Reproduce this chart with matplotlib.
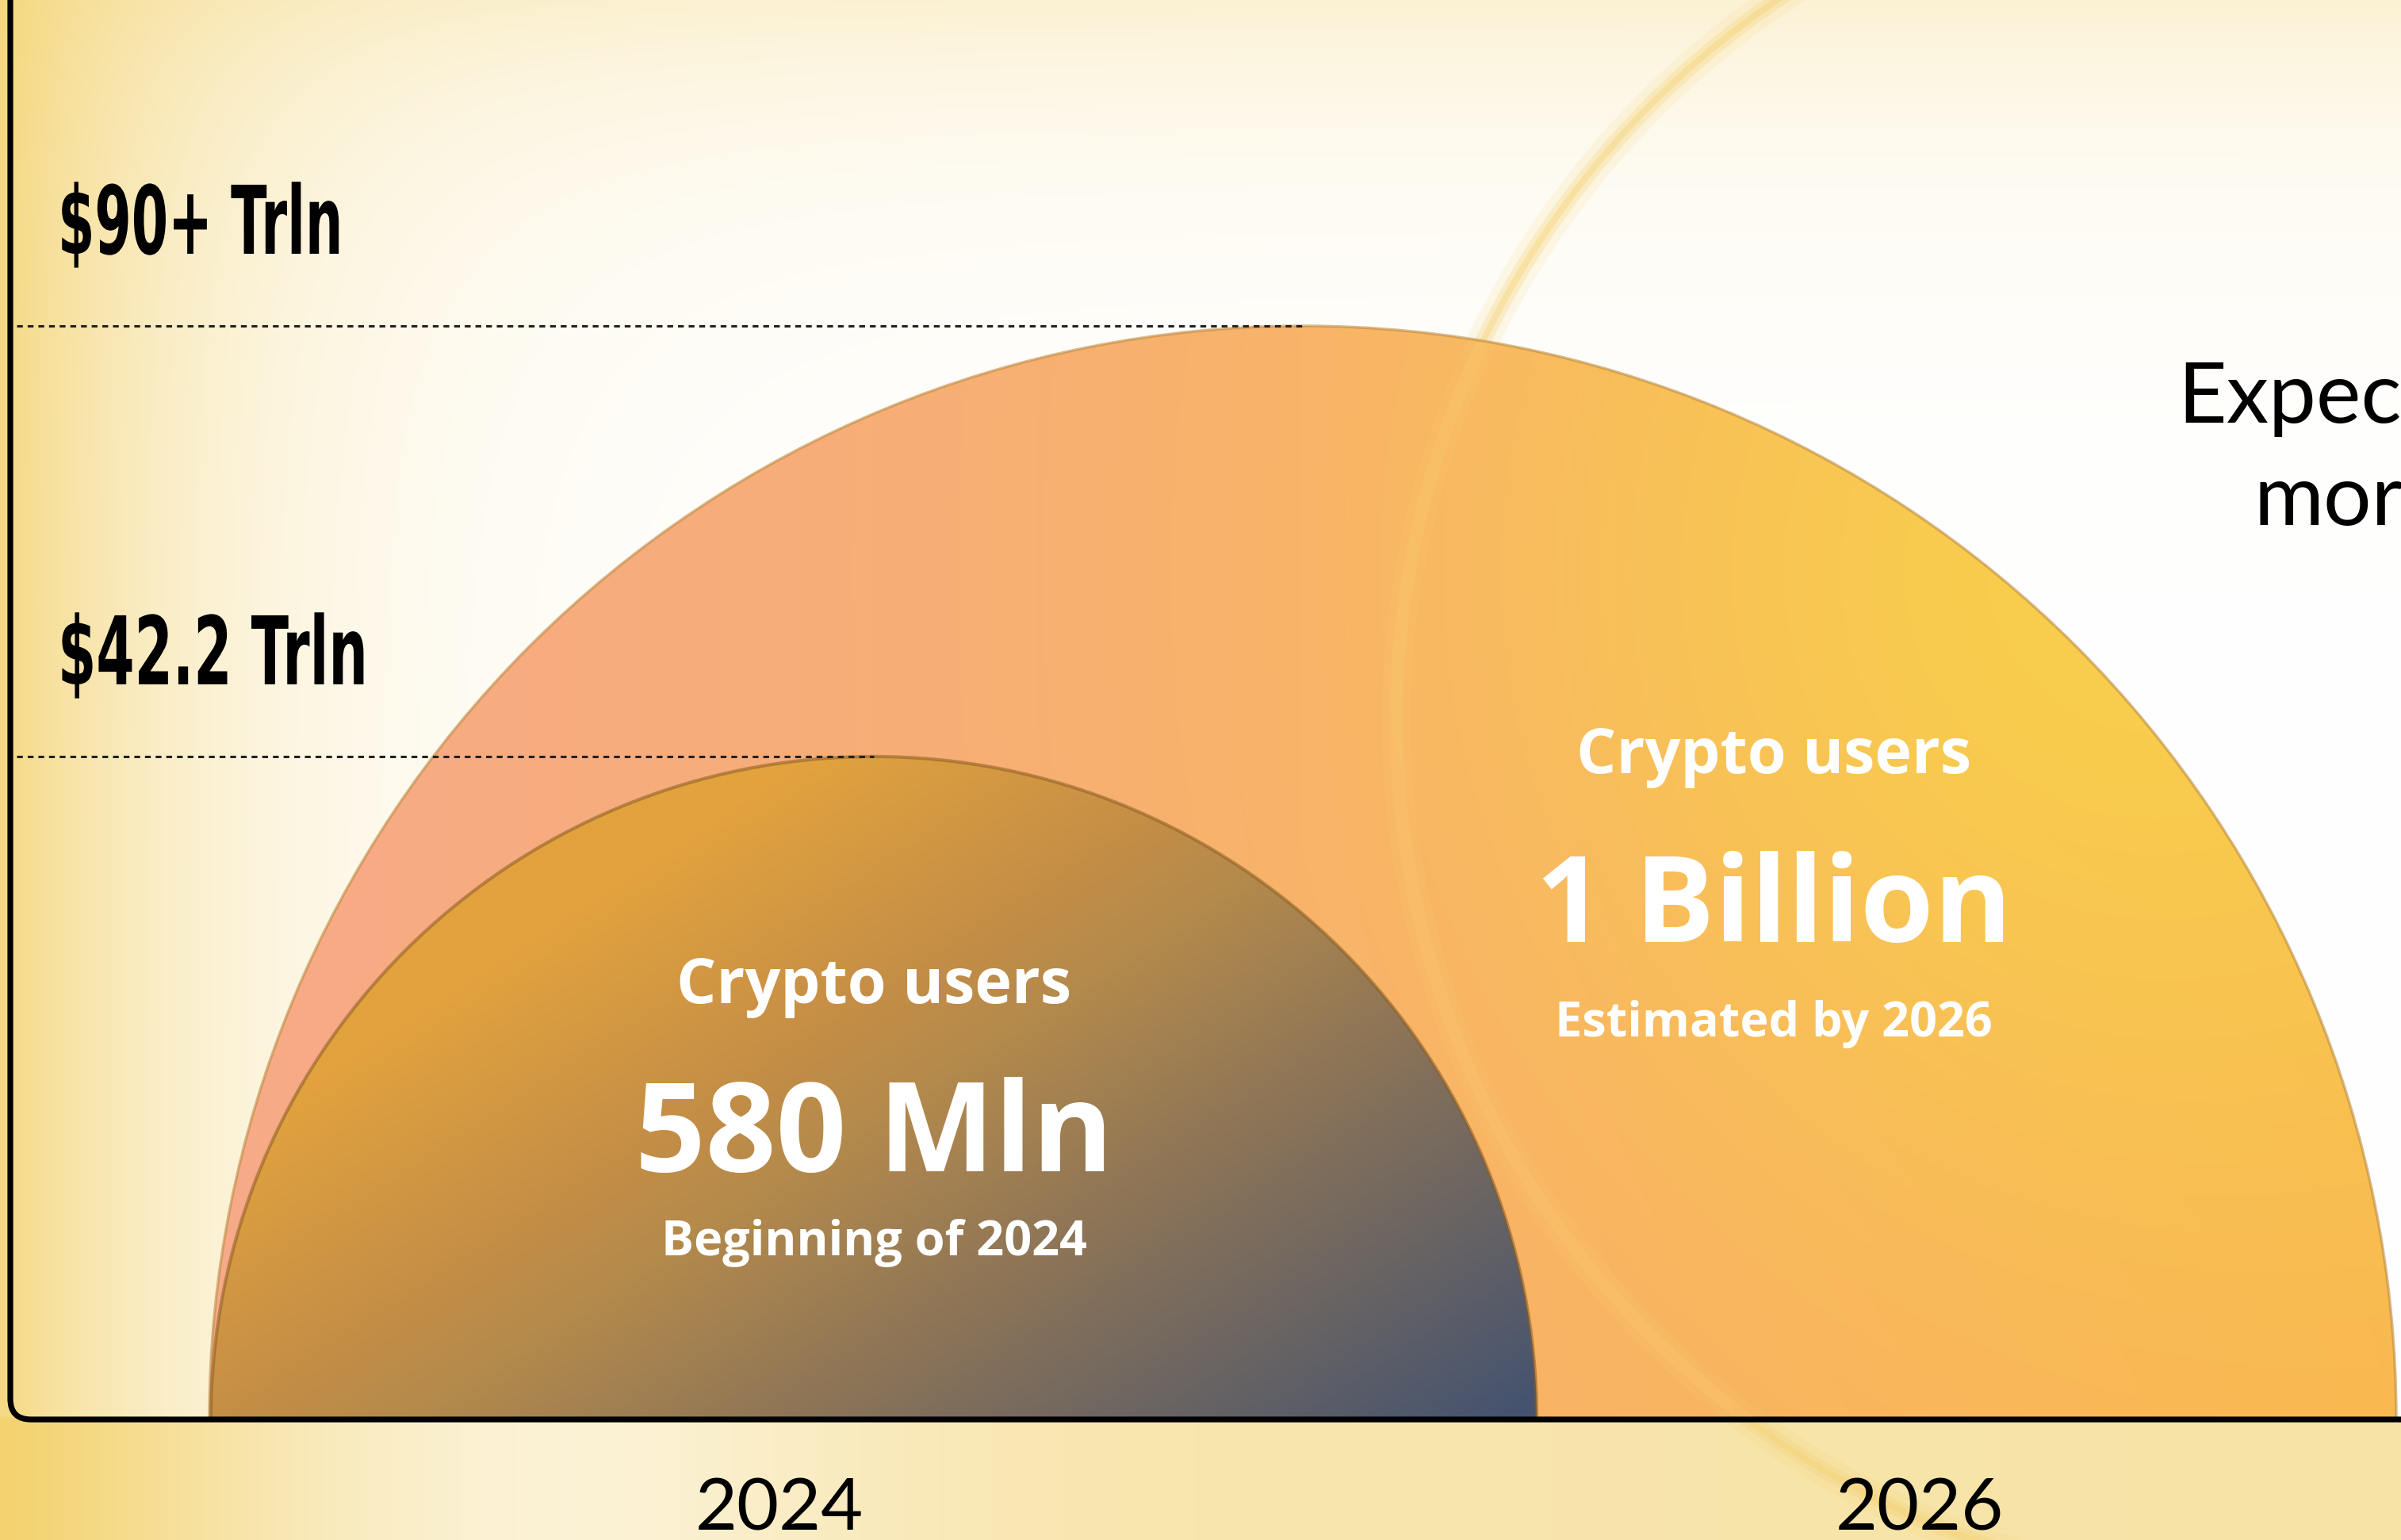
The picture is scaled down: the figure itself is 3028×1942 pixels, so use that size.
import matplotlib

matplotlib.use("Agg")
import matplotlib.pyplot as plt
import numpy as np
from matplotlib import font_manager
from matplotlib.colors import LinearSegmentedColormap, to_rgb
from matplotlib.font_manager import FontProperties
from matplotlib.patches import Arc, Circle, FancyBboxPatch, Wedge
from matplotlib.patheffects import AbstractPathEffect
from matplotlib.textpath import TextPath
from matplotlib.transforms import Affine2D

# ---- chart content -------------------------------------------------------
years = ["2024", "2026"]
market_labels = ["$42.2 Trln", "$90+ Trln"]
user_headers = ["Crypto users", "Crypto users"]
user_values = ["580 Mln", "1 Billion"]
user_notes = ["Beginning of 2024", "Estimated by 2026"]
side_note = "Expected\nmore"

# ---- layout (pixel units, y grows downwards) ------------------------------
DPI = 100
W, H = 3028, 1942
BASE_Y = 1790          # baseline (x axis)
AXIS_X = 13            # left axis
circle_cx = [1102, 1643]
circle_r = [836, 1379]
year_x = [983, 2421]
label_x = 73
label_w = [380, 349]   # target widths of the condensed value labels
ring_c, ring_r = (2860, 908), 1099


def pick_family(candidates):
    names = {f.name for f in font_manager.fontManager.ttflist}
    for c in candidates:
        if c in names:
            return c
    return "DejaVu Sans"


COND_FONT = pick_family(["Liberation Sans Narrow", "DejaVu Sans"])
BOLD_FONT = pick_family(["Open Sans", "Lato", "DejaVu Sans"])
THIN_FONT = pick_family(["Lato", "Open Sans", "DejaVu Sans"])


class Squeeze(AbstractPathEffect):
    """Draw glyphs horizontally condensed, anchored at the text's left edge."""

    def __init__(self, sx):
        super().__init__()
        self.sx = sx

    def draw_path(self, renderer, gc, tpath, affine, rgbFace=None):
        renderer.draw_path(gc, tpath, Affine2D().scale(self.sx, 1.0) + affine, rgbFace)


def text_width_px(s, prop, size_pt):
    tp = TextPath((0, 0), s, size=size_pt, prop=prop)
    return tp.get_extents().width * DPI / 72


def blend(base, colour, w):
    return base * (1 - w[..., None]) + np.array(to_rgb(colour)) * w[..., None]


fig = plt.figure(figsize=(W / DPI, H / DPI), dpi=DPI)
ax = fig.add_axes([0, 0, 1, 1])
ax.set_xlim(0, W)
ax.set_ylim(H, 0)
ax.axis("off")

gx = np.linspace(0, W, 760)
gy = np.linspace(0, H, 490)
X, Y = np.meshgrid(gx, gy)
xn, yn = X / W, Y / H

# background wash: yellow at left edge, cream at top, yellow band under the axis
w_left = 0.85 * np.exp(-xn / 0.085)
w_top = 0.30 * np.exp(-yn / 0.10)
w_bot = np.where(
    Y > BASE_Y,
    0.50 + 0.45 * np.exp(-xn / 0.05) - 0.28 * np.exp(-((xn - 0.22) / 0.14) ** 2) + 0.12 * xn,
    0.0,
)
w_bg = 1 - (1 - w_left) * (1 - w_top) * (1 - np.clip(w_bot, 0, 1))
bg = blend(np.ones(X.shape + (3,)), "#f3d26e", w_bg)
ax.imshow(bg, extent=(0, W, H, 0), interpolation="bilinear", zorder=0)

# faint background ring
for lw, a in [(40, 0.14), (20, 0.28), (8, 0.4)]:
    ax.add_patch(Circle(ring_c, ring_r, fill=False, ec="#f5d273", lw=lw * 72 / DPI,
                        alpha=a, zorder=1))

# big semicircle: peach -> orange, yellow glow upper right
t_big = np.clip((X - 265) / 2750, 0, 1)
big_rgb = blend(np.ones(X.shape + (3,)), "#f7aa88", np.ones(X.shape))
big_rgb = blend(big_rgb, "#f9b652", t_big)
glow = 0.85 * np.exp(-((X - 2700) ** 2 + (Y - 720) ** 2) / (2 * 560 ** 2))
big_rgb = blend(big_rgb, "#f8d24a", glow)

# small semicircle: gold -> slate
small_cmap = LinearSegmentedColormap.from_list(
    "small", [(0, "#e2a23e"), (0.25, "#c48e46"), (0.36, "#b48a4c"),
              (0.6, "#8a7358"), (1.0, "#45536f")])
t_small = np.clip(((X - 300) * 0.55 + (Y - 950) * 0.85 - 400) / 1200, 0, 1)
small_rgb = small_cmap(t_small)[..., :3]

for idx, rgb, z in [(0, small_rgb, 4), (1, big_rgb, 2)]:
    wedge = Wedge((circle_cx[idx], BASE_Y), circle_r[idx], 180, 360, transform=ax.transData)
    im = ax.imshow(rgb, extent=(0, W, H, 0), interpolation="bilinear", zorder=z)
    im.set_clip_path(wedge)

# ring showing faintly through the big semicircle
big_clip = Wedge((circle_cx[1], BASE_Y), circle_r[1], 180, 360, transform=ax.transData)
for lw, a in [(36, 0.12), (16, 0.18)]:
    ring_in = Circle(ring_c, ring_r, fill=False, ec="#ffd27a", lw=lw * 72 / DPI, alpha=a,
                     zorder=3)
    ax.add_patch(ring_in)
    ring_in.set_clip_path(big_clip)

# soft darker rims
ax.add_patch(Arc((circle_cx[1], BASE_Y), 2 * circle_r[1], 2 * circle_r[1], theta1=180,
                 theta2=360, color="#b8863a", lw=2.5, alpha=0.55, zorder=3.5))
ax.add_patch(Arc((circle_cx[0], BASE_Y), 2 * circle_r[0], 2 * circle_r[0], theta1=180,
                 theta2=360, color="#8a5c22", lw=3.0, alpha=0.55, zorder=4.5))

# dashed guide lines at the top of each semicircle
for cx, r in zip(circle_cx, circle_r):
    ax.hlines(BASE_Y - r, AXIS_X + 8, cx, colors="#222222", lw=2.2,
              linestyles=(0, (2.4, 2.0)), zorder=5)

# axes frame with rounded lower-left corner
ax.add_patch(FancyBboxPatch((AXIS_X, -200), W + 400, BASE_Y + 200,
                            boxstyle="round,pad=0,rounding_size=26",
                            fill=False, ec="black", lw=5.2, zorder=6))

# value labels on the left, drawn condensed
cond_prop = FontProperties(family=COND_FONT, weight="bold")
for lab, r, tw in zip(market_labels, circle_r, label_w):
    size = 86
    sx = tw / text_width_px(lab, cond_prop, size)
    ax.text(label_x, BASE_Y - r - 91, lab, fontsize=size,
            family=COND_FONT, weight="bold", color="black", ha="left", va="baseline",
            path_effects=[Squeeze(sx)], zorder=7)

# texts inside the semicircles
header_y = [1265, 975]
value_y = [1477, 1188]
note_y = [1583, 1307]
text_cx = [1102, 2237]
for i in range(2):
    ax.text(text_cx[i], header_y[i], user_headers[i], fontsize=57, family=BOLD_FONT,
            weight="bold", color="white", ha="center", va="baseline", zorder=7)
    ax.text(text_cx[i], value_y[i], user_values[i], fontsize=[112, 108][i], family=BOLD_FONT,
            weight="bold", color="white", ha="center", va="baseline", zorder=7)
    ax.text(text_cx[i], note_y[i], user_notes[i], fontsize=44, family=BOLD_FONT,
            weight="bold", color="white", ha="center", va="baseline", zorder=7)

# year labels under the axis
for x, yr in zip(year_x, years):
    ax.text(x, 1930, yr, fontsize=66, family=THIN_FONT, color="black",
            ha="center", va="baseline", zorder=7)

# side note, cut by the right edge as in the source (baseline = last line)
ax.text(2746, 662, side_note, fontsize=77, family=THIN_FONT, weight="normal",
        color="black", ha="left", va="baseline", multialignment="center",
        linespacing=1.42, zorder=7)

fig.savefig("out.png", dpi=DPI)
